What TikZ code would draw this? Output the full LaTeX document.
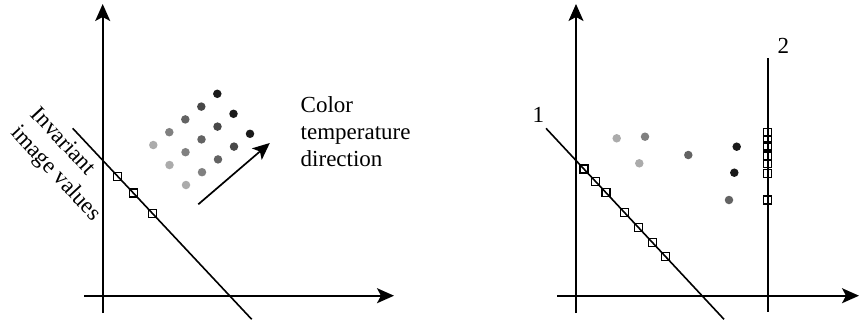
\documentclass[tikz,border=0pt]{standalone}
\usepackage{fontspec}
\setmainfont{Liberation Serif}
\usetikzlibrary{arrows.meta}
\definecolor{g1}{HTML}{ABABAB}
\definecolor{g2}{HTML}{808080}
\definecolor{g3}{HTML}{636363}
\definecolor{g4}{HTML}{484848}
\definecolor{g5}{HTML}{1A1A1A}
\begin{document}
\begin{tikzpicture}[x=1pt,y=-1pt,
  ax/.style={line width=1.7pt,-{Stealth[length=17pt,width=15pt,inset=4pt]}},
  ln/.style={line width=1.6pt},
  dot/.style={circle,inner sep=0pt,minimum size=8.5pt,fill=#1},
  sq/.style={draw,line width=1.3pt,inner sep=0pt,minimum size=8pt},
  lbl/.style={font=\fontsize{23}{27}\selectfont,inner sep=0pt}]
\useasboundingbox (0,0) rectangle (859,322);
% ---------- left panel ----------
\coordinate (ly0) at (102.7,313);
\coordinate (ly1) at (102.7,4);
\coordinate (lx0) at (84,295.7);
\coordinate (lx1) at (394,295.7);
\draw[ax] (ly0) -- (ly1);
\draw[ax] (lx0) -- (lx1);
\coordinate (ld0) at (72.7,128.3);
\coordinate (ld1) at (251.7,319.3);
\draw[ln] (ld0) -- (ld1)
  node[sq,pos=0.251] (ls1) {}
  node[sq,pos=0.339] (ls2) {}
  node[sq,pos=0.447] (ls3) {};
% dots: 3 rows x 5 columns
\foreach \r/\bx/\by in {0/153.3/145,1/169.5/165,2/186/185}{
  \foreach \c/\col in {0/g1,1/g2,2/g3,3/g4,4/g5}{
    \node[dot=\col] (ldot\r\c) at ({\bx+16*\c},{\by-12.8*\c}) {};
  }
}
\coordinate (ta0) at (198.3,204.3);
\coordinate (ta1) at (269.8,143);
\draw[ax] (ta0) -- (ta1);
\node[lbl,align=left,anchor=west] (ctd) at (300.5,132) {Color\\temperature\\direction};
\node[lbl,align=left,rotate=-47] (inv) at (65,165) {Invariant\\image values};
% ---------- right panel ----------
\coordinate (ry0) at (576,313);
\coordinate (ry1) at (576,4);
\coordinate (rx0) at (557.3,295.7);
\coordinate (rx1) at (859,295.7);
\draw[ax] (ry0) -- (ry1);
\draw[ax] (rx0) -- (rx1);
\coordinate (r10) at (546,128.3);
\coordinate (r11) at (724,319.3);
\draw[ln] (r10) -- (r11)
  node[sq,pos=0.2135] (a1) {}
  node[sq,pos=0.277] (a2) {}
  node[sq,pos=0.337] (a3) {}
  node[sq,pos=0.44] (a4) {}
  node[sq,pos=0.519] (a5) {}
  node[sq,pos=0.597] (a6) {}
  node[sq,pos=0.672] (a7) {};
\node[lbl] (one) at (538.3,115) {1};
\coordinate (r20) at (767.7,58.3);
\coordinate (r21) at (767.7,311.7);
\draw[ln] (r20) -- (r21);
\foreach \y [count=\i] in {132.7,139.5,146,156,163.3,173.3,200}{
  \node[sq] (b\i) at (767.7,\y) {};
}
\node[lbl] (two) at (783.3,46) {2};
\node[dot=g1] (rd1) at (616.7,138.3) {};
\node[dot=g2] (rd2) at (645,136.7) {};
\node[dot=g1] (rd3) at (639.3,163.3) {};
\node[dot=g3] (rd4) at (688.3,155) {};
\node[dot=g5] (rd5) at (736.7,146.7) {};
\node[dot=g5] (rd6) at (734.3,172.7) {};
\node[dot=g3] (rd7) at (729,200) {};
\end{tikzpicture}
\end{document}
